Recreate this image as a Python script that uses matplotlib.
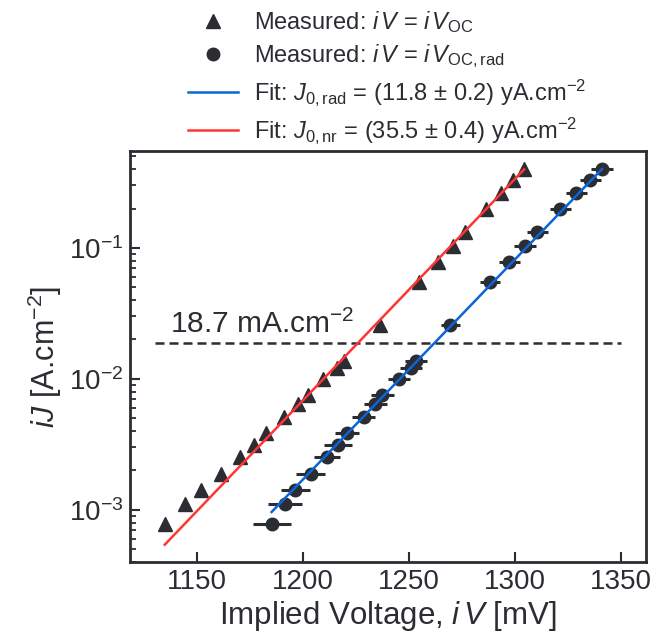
import numpy as np
import matplotlib
matplotlib.use("Agg")
import matplotlib.pyplot as plt
from matplotlib.lines import Line2D

# ---------------- data ----------------
iJ = [7.8e-4, 1.11e-3, 1.41e-3, 1.88e-3, 2.52e-3, 3.13e-3, 3.85e-3, 5.09e-3,
      6.4e-3, 7.6e-3, 9.9e-3, 12.2e-3, 13.8e-3, 0.0258, 0.0547, 0.0786,
      0.1035, 0.133, 0.197, 0.264, 0.330, 0.401]
iVoc = [1134.8, 1144.5, 1152.0, 1161.3, 1170.3, 1176.9, 1182.5, 1190.9,
        1197.8, 1202.3, 1209.6, 1215.9, 1219.5, 1236.5, 1254.7, 1263.7,
        1270.7, 1276.5, 1286.2, 1293.2, 1299.1, 1304.3]
iVoc_rad = [1185.2, 1191.4, 1196.4, 1203.6, 1211.3, 1216.4, 1220.8, 1228.6,
            1234.1, 1237.5, 1245.3, 1250.8, 1253.1, 1269.5, 1288.0, 1297.3,
            1304.7, 1310.6, 1321.4, 1328.9, 1335.5, 1341.1]
iVoc_rad_err = [9.0, 8.0, 7.0, 6.9, 6.3, 6.5, 5.8, 5.6, 5.5, 5.5, 5.3, 5.2,
                5.2, 4.5, 4.7, 5.0, 5.0, 5.0, 5.0, 5.0, 5.0, 5.3]

# fit parameters: J = J0 * exp(V / Vt)
J0_rad, Vt_rad = 11.8e-24, 25.85
J0_nr, Vt_nr = 35.5e-24, 25.69

Jsc = 18.7e-3
Jsc_range = [1130, 1350]

xticks = [1150, 1200, 1250, 1300, 1350]
xlim = (1118.4, 1361.8)
ylim = (4.0e-4, 0.55)

labels = [r"Measured: $i\,V$ = $i\,V_{\rm OC}$",
          r"Measured: $i\,V$ = $i\,V_{\rm OC,rad}$",
          r"Fit: $J_{0,\rm rad}$ = (11.8 $\pm$ 0.2) yA.cm$^{-2}$",
          r"Fit: $J_{0,\rm nr}$ = (35.5 $\pm$ 0.4) yA.cm$^{-2}$"]

# ---------------- style ----------------
DARK = "#2b2d33"
RED = "#ff3535"
BLUE = "#0a66d8"
plt.rcParams["font.family"] = ["Liberation Sans", "DejaVu Sans"]
plt.rcParams["mathtext.fontset"] = "custom"
plt.rcParams["mathtext.rm"] = "Liberation Sans"
plt.rcParams["mathtext.it"] = "Liberation Sans:italic"
plt.rcParams["mathtext.bf"] = "Liberation Sans:bold"
plt.rcParams["mathtext.sf"] = "Liberation Sans"
plt.rcParams["text.color"] = DARK
plt.rcParams["axes.labelcolor"] = DARK
plt.rcParams["xtick.color"] = DARK
plt.rcParams["ytick.color"] = DARK

fig = plt.figure(figsize=(6.56, 6.43), dpi=100)
ax = fig.add_axes([130 / 656, 1 - 562 / 643, (646 - 130) / 656, (562 - 151) / 643])

ax.set_yscale("log")

# measured points
ax.plot(iVoc, iJ, ls="none", marker="^", ms=10, color=DARK, mec=DARK, zorder=3)
ax.errorbar(iVoc_rad, iJ, xerr=iVoc_rad_err, ls="none", marker="o", ms=9,
            color=DARK, mec=DARK, elinewidth=2.2, capsize=0, zorder=3)

# fits
v_rad = np.linspace(min(iVoc_rad), max(iVoc_rad), 200)
v_nr = np.linspace(min(iVoc), max(iVoc), 200)
ax.plot(v_rad, J0_rad * np.exp(v_rad / Vt_rad), color=BLUE, lw=1.8, zorder=4)
ax.plot(v_nr, J0_nr * np.exp(v_nr / Vt_nr), color=RED, lw=1.8, zorder=4)

# Jsc line
ax.plot(Jsc_range, [Jsc, Jsc], color=DARK, lw=1.8, ls=(0, (3.6, 2.0)), zorder=2)
ax.text(1137.5, 0.0224, "%.1f mA.cm$^{-2}$" % (Jsc * 1e3), fontsize=21.5,
        color=DARK, va="baseline", ha="left")

ax.set_xlim(*xlim)
ax.set_ylim(*ylim)
ax.set_xticks(xticks)
ax.set_xticklabels([str(t) for t in xticks])

ax.tick_params(axis="both", which="both", direction="in", labelsize=20,
               top=False, right=False, width=1.5)
ax.tick_params(axis="both", which="major", length=7, pad=5)
ax.tick_params(axis="y", which="minor", length=4.3, width=1.3)
ax.tick_params(axis="x", which="minor", bottom=False)
for s in ax.spines.values():
    s.set_linewidth(2.0)
    s.set_color(DARK)

ax.set_xlabel(r"Implied Voltage, $i\,V$ [mV]", fontsize=22.5, labelpad=3)
ax.set_ylabel(r"$iJ$ [A.cm$^{-2}$]", fontsize=22, labelpad=3)

handles = [
    Line2D([], [], ls="none", marker="^", ms=10, color=DARK),
    Line2D([], [], ls="none", marker="o", ms=9, color=DARK),
    Line2D([], [], color=BLUE, lw=1.8),
    Line2D([], [], color=RED, lw=1.8),
]
leg = fig.legend(handles, labels, loc="upper left",
                 bbox_to_anchor=(188 / 656, 1 - 9 / 643),
                 frameon=False, fontsize=17, borderaxespad=0, borderpad=0,
                 handlelength=2.1, handletextpad=0.7, labelspacing=0.3)

fig.savefig("out.png", dpi=100)
